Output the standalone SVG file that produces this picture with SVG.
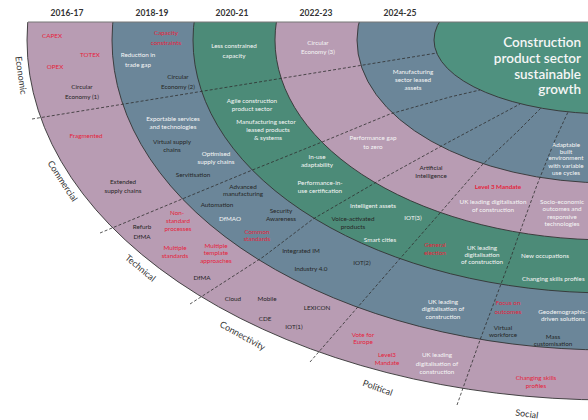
<svg xmlns="http://www.w3.org/2000/svg" width="588" height="420" viewBox="0 0 588 420">
<style>
.pk{fill:#b89cb3}
.bl{fill:#6b8699}
.gr{fill:#4c8b78}
.ce{fill:#4f917f}
.rb{stroke:#333;stroke-width:0.9}
.t{font-family:Lato,"Liberation Sans",sans-serif;font-size:6.3px;text-anchor:middle}
.w{fill:#f6f6f6}
.d{fill:#262626}
.r{fill:#e5233b}
.yr{font-family:Lato,"Liberation Sans",sans-serif;font-size:8.5px;font-weight:bold;fill:#333;text-anchor:middle}
.sec{font-family:Lato,"Liberation Sans",sans-serif;font-size:9px;fill:#333;text-anchor:middle}
.ttl{font-family:Lato,"Liberation Sans",sans-serif;font-size:13.5px;fill:#f6f6f6;text-anchor:end;font-weight:600}
.dl{fill:none;stroke:#2e2e2e;stroke-width:0.8;stroke-dasharray:3 2}
</style>
<defs>
<clipPath id="clip"><rect x="0" y="22" width="588" height="398"/></clipPath>
</defs>
<rect width="588" height="420" fill="#fff"/>
<g id="rings" clip-path="url(#clip)">
<g id="ring-2016-17"><ellipse class="pk rb" cx="610" cy="40" rx="583" ry="360"/></g>
<g id="ring-2018-19"><ellipse class="bl rb" cx="610" cy="40" rx="498" ry="310"/></g>
<g id="ring-2020-21"><ellipse class="gr rb" cx="610" cy="40" rx="417" ry="253"/></g>
<g id="ring-2022-23"><ellipse class="pk rb" cx="610" cy="40" rx="335" ry="200"/></g>
<g id="ring-2024-25"><ellipse class="bl rb" cx="610" cy="40" rx="253" ry="143"/></g>
<g id="centre"><ellipse class="ce rb" cx="610" cy="40" rx="176" ry="74"/></g>
</g>
<line x1="28" y1="22" x2="588" y2="22" stroke="#777" stroke-width="1"/>
<g id="connectors">
<polyline class="dl" points="32,119 437,53"/>
<polyline class="dl" points="100,233 187,197 250,171 327,140 390,114 450,97 480,90"/>
<polyline class="dl" points="190,304 263,257 313,219 380,180 447,143 520,104"/>
<polyline class="dl" points="310,362 390,270 440,213 480,167 517,132 541,108"/>
<polyline class="dl" points="457,405 480,340 510,260 517,240 537,185 555,140 568,112"/>
</g>
<g id="years">
<text class="yr" x="67" y="16">2016-17</text>
<text class="yr" x="152" y="16">2018-19</text>
<text class="yr" x="232" y="16">2020-21</text>
<text class="yr" x="316" y="16">2022-23</text>
<text class="yr" x="400" y="16">2024-25</text>
</g>
<g id="title">
<text class="ttl" x="581" y="47">Construction</text>
<text class="ttl" x="581" y="63">product sector</text>
<text class="ttl" x="581" y="78.5">sustainable</text>
<text class="ttl" x="581" y="94">growth</text>
</g>
<g id="sector-labels">
<text class="sec" transform="translate(18,75.7) rotate(82)">Economic</text>
<text class="sec" transform="translate(60,182.8) rotate(57)">Commercial</text>
<text class="sec" transform="translate(138.5,270.4) rotate(40)">Technical</text>
<text class="sec" transform="translate(241,338.5) rotate(29)">Connectivity</text>
<text class="sec" transform="translate(376.6,390.8) rotate(20)">Political</text>
<text class="sec" transform="translate(526.4,417) rotate(8)">Social</text>
</g>
<g id="economic" class="t">
<text class="r" x="52" y="38">CAPEX</text>
<text class="r" x="90" y="57">TOTEX</text>
<text class="r" x="55" y="69">OPEX</text>
<text class="d" x="82" y="89">Circular</text>
<text class="d" x="82" y="99">Economy (1)</text>
<text class="r" x="166" y="35">Capacity</text>
<text class="r" x="166" y="45">constraints</text>
<text class="w" x="138" y="57">Reduction in</text>
<text class="w" x="138" y="67">trade gap</text>
<text class="d" x="178" y="79">Circular</text>
<text class="d" x="178" y="89">Economy (2)</text>
<text class="w" x="234" y="48">Less constrained</text>
<text class="w" x="234" y="58">capacity</text>
<text class="w" x="318" y="45">Circular</text>
<text class="w" x="318" y="54">Economy (3)</text>
</g>
<g id="commercial" class="t">
<text class="r" x="86" y="138">Fragmented</text>
<text class="d" x="123" y="184">Extended</text>
<text class="d" x="123" y="193">supply chains</text>
<text class="w" x="173" y="121">Exportable services</text>
<text class="w" x="173" y="129">and technologies</text>
<text class="d" x="172" y="144">Virtual supply</text>
<text class="d" x="172" y="152">chains</text>
<text class="w" x="216" y="156">Optimised</text>
<text class="w" x="216" y="164">supply chains</text>
<text class="d" x="193" y="177">Servitisation</text>
<text class="w" x="252" y="103">Agile construction</text>
<text class="w" x="252" y="111">product sector</text>
<text class="w" x="266" y="124">Manufacturing sector</text>
<text class="w" x="268" y="132">leased products</text>
<text class="w" x="268" y="140">&amp; systems</text>
<text class="w" x="373" y="140">Performance gap</text>
<text class="w" x="373" y="149">to zero</text>
<text class="w" x="413" y="74">Manufacturing</text>
<text class="w" x="413" y="82">sector leased</text>
<text class="w" x="413" y="90">assets</text>
</g>
<g id="technical" class="t">
<text class="d" x="142" y="229">Refurb</text>
<text class="d" x="142" y="239">DfMA</text>
<text class="r" x="177" y="215">Non-</text>
<text class="r" x="178" y="223">standard</text>
<text class="r" x="178" y="231">processes</text>
<text class="r" x="175" y="250">Multiple</text>
<text class="r" x="175" y="258">standards</text>
<text class="r" x="216" y="248">Multiple</text>
<text class="r" x="216" y="255">template</text>
<text class="r" x="216" y="263">approaches</text>
<text class="d" x="202" y="280">DfMA</text>
<text class="d" x="243" y="189">Advanced</text>
<text class="d" x="243" y="196">manufacturing</text>
<text class="d" x="217" y="207">Automation</text>
<text class="w" x="230" y="221">DfMAO</text>
<text class="d" x="281" y="213">Security</text>
<text class="d" x="281" y="221">Awareness</text>
<text class="r" x="257" y="234">Common</text>
<text class="r" x="257" y="241">standards</text>
<text class="w" x="317" y="159">In-use</text>
<text class="w" x="317" y="167">adaptability</text>
<text class="w" x="320" y="185">Performance-in-</text>
<text class="w" x="320" y="193">use certification</text>
<text class="d" x="431" y="170">Artificial</text>
<text class="d" x="431" y="178">Intelligence</text>
</g>
<g id="connectivity" class="t">
<text class="d" x="233" y="301">Cloud</text>
<text class="d" x="267" y="301">Mobile</text>
<text class="d" x="265" y="321">CDE</text>
<text class="d" x="317" y="310">LEXICON</text>
<text class="d" x="294" y="329">IOT(1)</text>
<text class="d" x="301" y="253">Integrated IM</text>
<text class="d" x="311" y="271">Industry 4.0</text>
<text class="d" x="362" y="265">IOT(2)</text>
<text class="w" x="373" y="208">Intelligent assets</text>
<text class="d" x="353" y="221">Voice-activated</text>
<text class="d" x="353" y="229">products</text>
<text class="w" x="380" y="242">Smart cities</text>
<text class="w" x="413" y="220">IOT(3)</text>
</g>
<g id="political" class="t">
<text class="r" x="498" y="189" font-weight="bold">Level 3 Mandate</text>
<text class="w" x="493" y="204">UK leading digitalisation</text>
<text class="w" x="493" y="212">of construction</text>
<text class="r" x="435" y="247">General</text>
<text class="r" x="435" y="255">election</text>
<text class="w" x="482" y="250">UK leading</text>
<text class="w" x="482" y="257">digitalisation</text>
<text class="w" x="482" y="264">of construction</text>
<text class="w" x="443" y="304">UK leading</text>
<text class="w" x="443" y="311">digitalisation of</text>
<text class="w" x="443" y="319">construction</text>
<text class="r" x="363" y="337">Vote for</text>
<text class="r" x="363" y="344">Europe</text>
<text class="r" x="387" y="357">Level3</text>
<text class="r" x="387" y="365">Mandate</text>
<text class="w" x="437" y="357">UK leading</text>
<text class="w" x="437" y="366">digitalisation of</text>
<text class="w" x="437" y="374">construction</text>
</g>
<g id="social" class="t">
<text class="r" x="536" y="380">Changing skills</text>
<text class="r" x="536" y="388">profiles</text>
<text class="r" x="508" y="305">Focus on</text>
<text class="r" x="508" y="314">outcomes</text>
<text class="w" x="563" y="314">Geodemographic-</text>
<text class="w" x="563" y="321">driven solutions</text>
<text class="d" x="503" y="330">Virtual</text>
<text class="d" x="503" y="337">workforce</text>
<text class="d" x="553" y="339">Mass</text>
<text class="d" x="553" y="346">customisation</text>
<text class="w" x="545" y="258">New occupations</text>
<text class="w" x="522" y="281" text-anchor="start">Changing skills profiles</text>
<text class="w" x="562" y="204">Socio-economic</text>
<text class="w" x="562" y="211">outcomes and</text>
<text class="w" x="562" y="219">responsive</text>
<text class="w" x="562" y="226">technologies</text>
<text class="w" x="566" y="147">Adaptable</text>
<text class="w" x="566" y="154">built</text>
<text class="w" x="566" y="160">environment</text>
<text class="w" x="566" y="168">with variable</text>
<text class="w" x="566" y="175">use cycles</text>
</g>
</svg>
